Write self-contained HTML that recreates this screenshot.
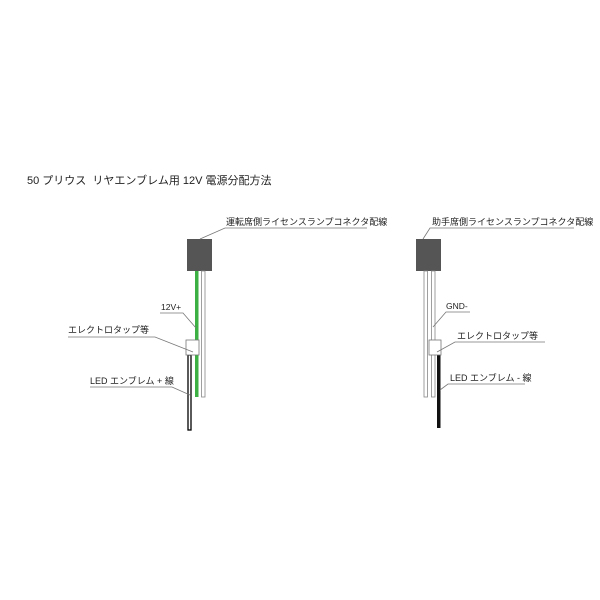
<!DOCTYPE html>
<html><head><meta charset="utf-8"><style>
html,body{margin:0;padding:0;background:#fff;}
svg{display:block}
text{font-family:"Liberation Sans","Noto Sans CJK JP",sans-serif;fill:#222;}
</style></head><body>
<svg width="600" height="600" viewBox="0 0 600 600" xmlns="http://www.w3.org/2000/svg">
<text x="27" y="184" font-size="11" xml:space="preserve">50 プリウス  リヤエンブレム用 12V 電源分配方法</text>

<!-- LEFT -->
<rect x="187" y="239" width="25" height="32" fill="#555"/>
<rect x="195" y="271" width="3.5" height="126" fill="#3cb043"/>
<rect x="201.5" y="271" width="3.5" height="126" fill="#fff" stroke="#888" stroke-width="0.8"/>
<rect x="188" y="355" width="3" height="75" fill="#fff" stroke="#000" stroke-width="1.3"/>
<rect x="186" y="340" width="13" height="15" fill="#fff" stroke="#777" stroke-width="0.8"/>
<polyline points="200,239 225,228 367,228" fill="none" stroke="#777" stroke-width="0.8"/>
<text x="226" y="225" font-size="9">運転席側ライセンスランプコネクタ配線</text>
<polyline points="160,313 183,313 196,328" fill="none" stroke="#777" stroke-width="0.8"/>
<text x="161" y="310" font-size="8.5">12V+</text>
<polyline points="68,337 155,337 193,352" fill="none" stroke="#777" stroke-width="0.8"/>
<text x="68" y="333" font-size="9">エレクトロタップ等</text>
<polyline points="90,387 172,387 190,395" fill="none" stroke="#777" stroke-width="0.8"/>
<text x="90" y="384" font-size="9">LED エンブレム + 線</text>

<!-- RIGHT -->
<rect x="416" y="239" width="25" height="32" fill="#555"/>
<rect x="424" y="271" width="3.5" height="126" fill="#fff" stroke="#888" stroke-width="0.8"/>
<rect x="431.5" y="271" width="3.5" height="126" fill="#fff" stroke="#888" stroke-width="0.8"/>
<rect x="437" y="355" width="3.5" height="73" fill="#111"/>
<rect x="429" y="340" width="12" height="15" fill="#fff" stroke="#777" stroke-width="0.8"/>
<polyline points="423,239 430,228 574,228" fill="none" stroke="#777" stroke-width="0.8"/>
<text x="432" y="225" font-size="9">助手席側ライセンスランプコネクタ配線</text>
<polyline points="470,312 446,312 433,327" fill="none" stroke="#777" stroke-width="0.8"/>
<text x="446" y="309" font-size="8.5">GND-</text>
<polyline points="545,342 455,342 437,352" fill="none" stroke="#777" stroke-width="0.8"/>
<text x="457" y="339" font-size="9">エレクトロタップ等</text>
<polyline points="525,384 448,384 440,390" fill="none" stroke="#777" stroke-width="0.8"/>
<text x="450" y="381" font-size="9">LED エンブレム - 線</text>
</svg>
</body></html>
